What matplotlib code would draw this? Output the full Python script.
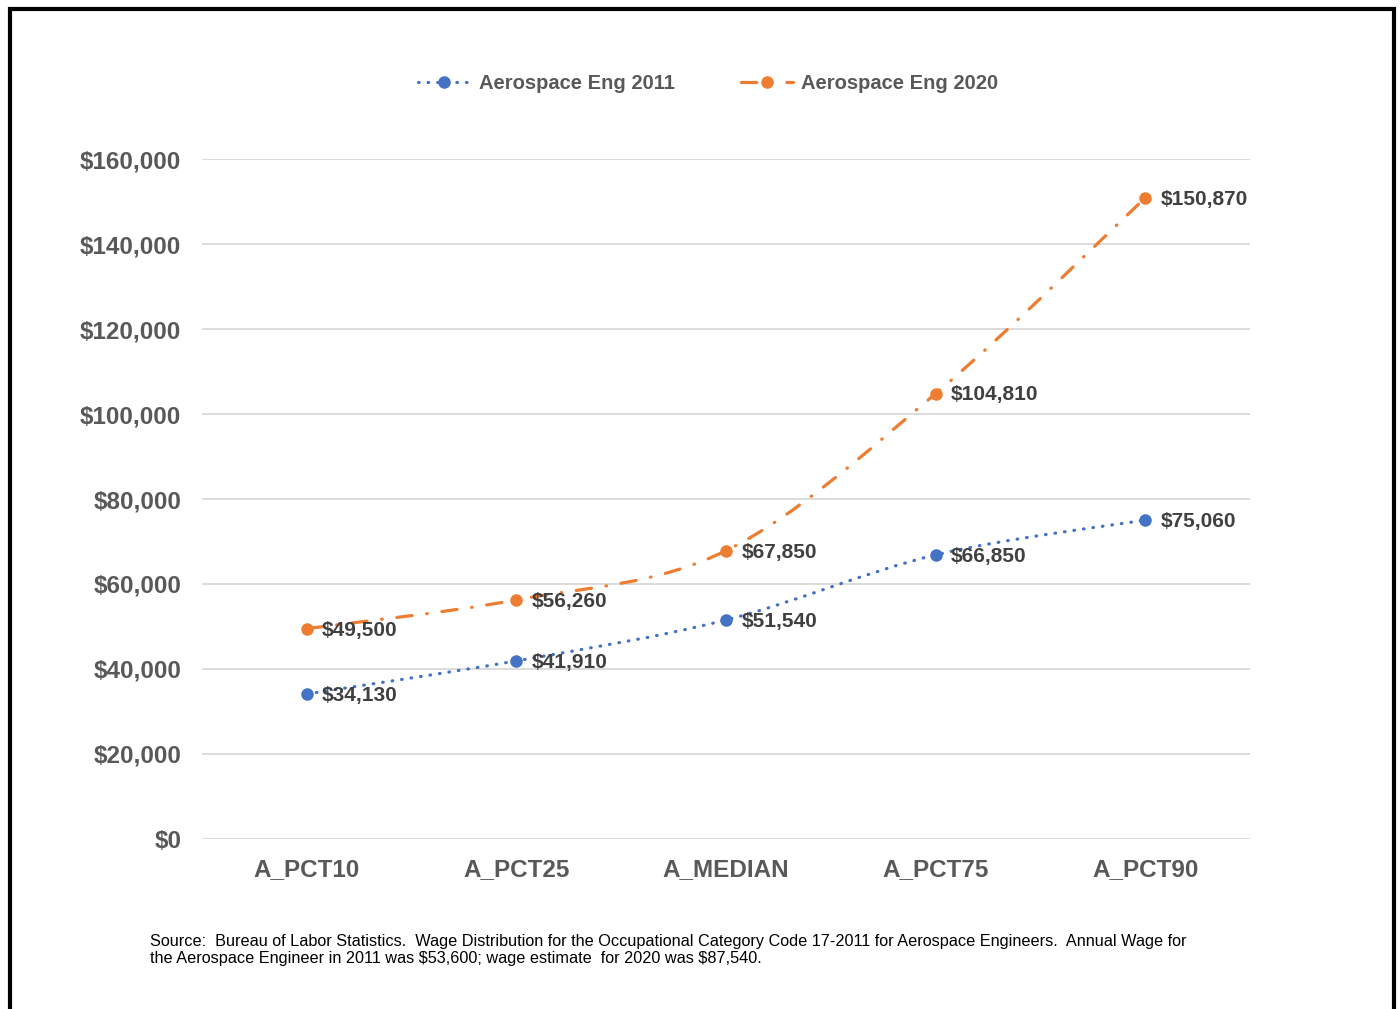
"""
Aerospace engineer wage distribution, 2011 vs 2020 (BLS code 17-2011).
"""
import matplotlib
matplotlib.use('Agg')
import matplotlib.pyplot as plt
from matplotlib.path import Path
from matplotlib.patches import PathPatch, Rectangle
from matplotlib.lines import Line2D
from matplotlib.ticker import FuncFormatter

plt.rcParams['font.family'] = ['Liberation Sans', 'DejaVu Sans']

# Data
categories = ['A_PCT10', 'A_PCT25', 'A_MEDIAN', 'A_PCT75', 'A_PCT90']
wage_2011 = [34130, 41910, 51540, 66850, 75060]
wage_2020 = [49500, 56260, 67850, 104810, 150870]
series_names = ['Aerospace Eng 2011', 'Aerospace Eng 2020']
yticks = [0, 20000, 40000, 60000, 80000, 100000, 120000, 140000, 160000]
source_note = (r"Source:  Bureau of Labor Statistics.  Wage Distribution for the Occupational "
               r"Category Code 17-2011 for Aerospace Engineers.  Annual Wage for" "\n"
               r"the Aerospace Engineer in 2011 was \$53,600; wage estimate  for 2020 was \$87,540.")

BLUE = '#4472C4'
ORANGE = '#ED7D31'
GREY = '#595959'
DARK = '#404040'


def smooth_path(xs, ys):
    # Excel-style smoothed line: cubic Bezier segments through the data points
    pts = list(zip(xs, ys))
    n = len(pts)
    verts = [pts[0]]
    codes = [Path.MOVETO]
    for i in range(n - 1):
        p0 = pts[max(i - 1, 0)]
        p1 = pts[i]
        p2 = pts[i + 1]
        p3 = pts[min(i + 2, n - 1)]
        c1 = (p1[0] + (p2[0] - p0[0]) / 6, p1[1] + (p2[1] - p0[1]) / 6)
        c2 = (p2[0] - (p3[0] - p1[0]) / 6, p2[1] - (p3[1] - p1[1]) / 6)
        verts += [c1, c2, p2]
        codes += [Path.CURVE4] * 3
    return Path(verts, codes)


fig = plt.figure(figsize=(14, 10.09), dpi=100)
ax = fig.add_axes([0.1443, 0.1685, 0.7486, 0.6739])

x = list(range(len(categories)))
styles = [(BLUE, (0, (0.2, 2.8))), (ORANGE, (0, (4.8, 4.6, 0.2, 4.6)))]
handles = []
for vals, (color, ls), name in zip([wage_2011, wage_2020], styles, series_names):
    patch = PathPatch(smooth_path(x, vals), facecolor='none', edgecolor=color,
                      linewidth=2.3, linestyle=ls, capstyle='round', zorder=3)
    ax.add_patch(patch)
    ax.plot(x, vals, 'o', color=color, markersize=8, zorder=4)
    for xi, v in zip(x, vals):
        ax.annotate(f'${v:,.0f}', xy=(xi, v), xytext=(11, -1), textcoords='offset points',
                    ha='left', va='center', fontsize=15, fontweight='bold', color=DARK, zorder=5)
    h = Line2D([], [], color=color, linewidth=2.3, linestyle=ls, marker='o', markersize=8,
               dash_capstyle='round')
    handles.append(h)

ax.set_xlim(-0.5, len(categories) - 0.5)
ax.set_ylim(0, 160000)
ax.set_yticks(yticks)
ax.yaxis.set_major_formatter(FuncFormatter(lambda v, p: f'${v:,.0f}'))
ax.set_xticks(x)
ax.set_xticklabels(categories)
ax.grid(axis='y', color='#D9D9D9', linewidth=1.3)
ax.set_axisbelow(True)
for s in ax.spines.values():
    s.set_visible(False)
ax.tick_params(axis='both', length=0, colors=GREY, labelsize=17.5)
ax.tick_params(axis='y', pad=15)
ax.tick_params(axis='x', pad=14)
for lab in ax.get_xticklabels() + ax.get_yticklabels():
    lab.set_fontweight('bold')

leg = fig.legend(handles, series_names, loc='center', bbox_to_anchor=(0.506, 0.917), ncol=2,
                 frameon=False, handlelength=2.6, handletextpad=0.4, columnspacing=3.3,
                 prop={'weight': 'bold', 'size': 14.5})
for t in leg.get_texts():
    t.set_color(GREY)

fig.text(150 / 1400, 1 - 934 / 1009, source_note, ha='left', va='top', fontsize=11.7,
         color='black', linespacing=1.2)

# black frame around the whole chart
fig.patches.append(Rectangle((10 / 1400, -0.02), 1384 / 1400, 1.02 - 9 / 1009,
                             transform=fig.transFigure, fill=False, edgecolor='black',
                             linewidth=3, zorder=10))

fig.savefig('out.png', dpi=100)
